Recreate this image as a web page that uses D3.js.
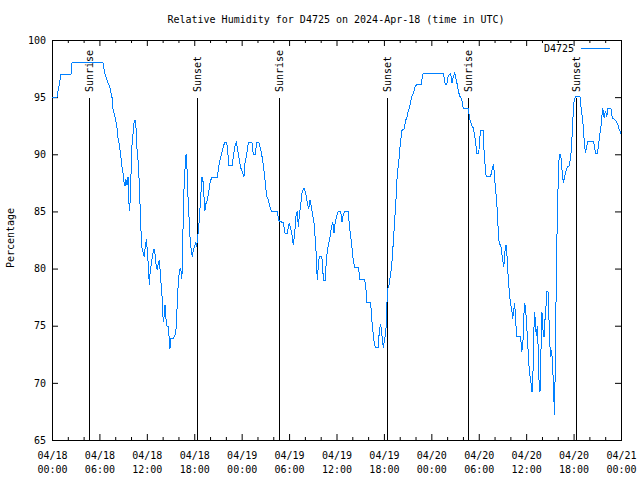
<!DOCTYPE html>
<html>
<head>
<meta charset="utf-8">
<script src="https://cdn.jsdelivr.net/npm/d3@7"></script>
<style>
  html, body { margin: 0; padding: 0; background: #fff; }
  svg { display: block; }
  text { font-family: "DejaVu Sans Mono", "Liberation Mono", monospace; font-size: 10px; fill: #000; }
</style>
</head>
<body>
<svg id="chart" width="640" height="480"></svg>
<script>
// ---- data ----
const titleText = "Relative Humidity for D4725 on 2024-Apr-18 (time in UTC)";
const yLabel = "Percentage";
const seriesName = "D4725";
const startTime = "2024-04-18T00:00:00Z";
const endTime = "2024-04-21T00:00:00Z";
const yTicks = [65, 70, 75, 80, 85, 90, 95, 100];

// hours since 2024-04-18 00:00 UTC
const hours = [0,0.63,0.89,1.14,2.40,2.53,6.45,6.71,6.96,7.34,
7.59,7.72,7.97,8.22,8.29,8.48,8.60,8.73,8.86,8.98,
9.11,9.24,9.36,9.49,9.62,9.78,9.87,10.12,10.41,10.59,
10.72,10.92,11.05,11.14,11.22,11.35,11.39,11.55,11.68,11.81,
11.98,12.06,12.19,12.31,12.40,12.62,12.82,12.91,13.03,13.16,
13.32,13.45,13.58,13.75,13.92,14.01,14.14,14.21,14.30,14.42,
14.51,14.76,14.84,14.93,15.06,15.35,15.56,15.69,15.78,15.91,
16.03,16.20,16.32,16.41,16.54,16.61,16.74,16.87,16.96,17.08,
17.21,17.34,17.46,17.59,17.75,17.88,18.01,18.18,18.31,18.44,
18.56,18.73,18.85,18.98,19.15,19.32,19.49,19.65,19.83,19.99,
20.21,20.92,21.09,21.26,21.47,21.68,21.85,22.11,22.23,22.36,
22.81,22.94,23.16,23.32,23.50,23.70,23.88,24.08,24.29,24.42,
24.64,24.84,25.31,25.47,25.72,25.90,26.19,26.41,26.66,26.83,
26.99,27.17,27.37,27.59,27.75,28.51,28.69,29.27,29.48,29.77,
30.03,30.20,30.37,30.53,30.71,30.87,31.04,31.17,31.29,31.47,
31.67,31.89,32.10,32.30,32.48,32.65,32.77,32.99,33.19,33.41,
33.57,33.70,33.83,34.13,34.25,34.33,34.58,34.67,34.83,35.01,
35.18,35.39,35.52,35.68,35.85,36.02,36.23,36.53,36.70,36.86,
37.07,37.49,37.62,37.80,37.96,38.13,38.31,38.76,38.97,39.57,
39.73,39.82,40.33,40.45,40.58,40.78,40.91,41.29,41.42,41.59,
41.76,41.92,42.10,42.26,42.35,42.43,42.64,42.77,42.98,43.11,
43.27,43.40,43.53,43.69,43.87,44.03,44.16,44.29,44.54,44.76,
44.88,45.05,45.21,45.39,45.52,45.72,45.97,46.15,46.69,46.82,
46.98,49.51,49.77,49.94,50.15,50.45,50.61,50.78,50.96,51.12,
51.29,51.42,51.63,51.85,52.05,52.65,52.77,52.90,53.11,53.31,
53.49,53.62,53.74,54.00,54.16,54.29,54.58,54.67,54.80,54.93,
55.51,55.68,55.85,55.93,56.06,56.19,56.35,56.48,56.61,56.78,
56.91,57.03,57.16,57.33,57.46,57.58,57.74,57.87,58.00,58.17,
58.30,58.43,58.55,58.68,58.81,59.23,59.36,59.44,59.57,59.64,
59.77,59.89,60.02,60.19,60.32,60.48,60.61,60.74,60.90,61.03,
61.16,61.28,61.41,61.54,61.62,61.75,61.88,62.00,62.13,62.26,
62.38,62.51,62.60,62.76,62.85,62.98,63.10,63.23,63.36,63.49,
63.56,63.68,63.81,63.94,64.07,64.19,64.37,64.53,64.70,64.88,
65.04,65.21,65.46,65.64,65.77,65.90,66.06,66.23,66.81,66.98,
67.16,67.29,67.42,67.50,67.67,67.80,68.51,68.64,68.77,69.02,
69.15,69.28,69.46,69.57,69.70,69.87,70.04,70.21,70.34,70.72,
70.89,71.27,71.56,71.74,71.90,72.00];

const humidity = [95,95,96,97,97,98,98,97,96.5,95.8,
95,94,93.3,92.4,91.6,91,90.4,89.7,88.9,88.4,
87.6,87.2,87.8,87.3,88,85,85.7,90.8,93,93,
90.8,89.2,87.4,85.6,83.7,82.4,81.8,81.4,81,82,
82.6,81.3,80.4,78.6,79.5,80.7,81.5,81.7,81.3,80.4,
79.9,80.5,80.7,79.2,77.6,75.9,75.3,76.2,76.8,75.6,
75,74.9,73.6,73,73.9,73.9,74.2,74.7,75.9,77.9,
79.3,80,79.8,79.1,80.3,85.8,87.4,89.2,90,88.8,
86.3,84.5,82.8,81.8,81,81.6,81.9,82.2,82,82.8,
83.6,85.3,86.6,88,87.5,85,85.7,86,86.7,87.5,
88,88,88.9,89.5,90.1,90.7,91,91,90.4,89,
89,89.8,90.7,91,90.4,89.5,88.8,88.5,88,89.2,
90,91,91,90,90,91,91,90.4,89.5,88.5,
87.5,86.3,86,85.4,85,85,84.2,84,83.1,83.1,
84,83.5,82.9,82.1,83.1,84.6,85,83.6,84.6,85.6,
86.8,87.05,86.6,85.8,85.2,86,85.6,84.7,83.8,81.5,
79,80.3,81.1,81.1,80.3,79,79,80.2,81.5,82.2,
82.8,83.7,84.1,83.1,84.1,84.6,85,85,84.1,84.7,
85,85,83.8,82.8,81.8,80.7,80.1,80.1,79.05,79.05,
78.2,77,77,75.6,74.7,73.5,73.1,73.1,74.6,75.1,
74.1,73.1,73.8,74.7,75.9,78.2,78.5,79.2,80.2,81.5,
83.2,84.6,86.1,88.3,89.3,90.6,91.4,92.1,92.2,93,
93.1,93.7,94,94.6,95.05,95.3,96,96.07,96.07,96.6,
97.1,97.1,96.07,96.07,96.9,97.1,96.2,96.8,97.1,96.6,
96.07,95.5,95.05,94.8,94,94,93.5,93,92.5,92.3,
91.6,91,90.1,90.1,91.6,92.1,92.1,90.3,89.1,88.1,
88.1,88.6,89.1,88.6,87.5,86.5,85,83.1,82.1,82.1,
81.4,80.8,80.1,81.6,82.1,81.1,79.05,77.9,77.1,76.4,
75.6,76.4,77,75.3,74.1,74.1,73.5,72.7,73.3,74.4,
77,76.7,75.6,73.5,71.8,70.6,70,69.2,71.5,76.2,
75.5,74.1,75,72.7,70.3,69.2,73,76.2,74.6,74,
75.5,76.7,78,78,76.4,73.5,72.3,72.9,71.2,69.4,
67.15,71,79.05,84.6,88.1,90,90,88.7,87.5,88.1,
88.5,88.9,89,89.8,91,93,94.6,95.05,95.05,93.9,
93,91.6,90.7,90.1,90.7,91.1,91.1,90.7,90.1,90.1,
90.7,91.6,92.4,93.3,94,93.2,93.8,93.3,94,94,
93.2,93,92.7,92.2,92,91.8];

const sunEvents = ["Sunrise", "Sunset", "Sunrise", "Sunset", "Sunrise", "Sunset"];
const sunTimes = ["2024-04-18T04:43:00Z", "2024-04-18T18:23:00Z",
                  "2024-04-19T04:46:00Z", "2024-04-19T18:26:00Z",
                  "2024-04-20T04:41:00Z", "2024-04-20T18:18:00Z"];

// ---- chart ----
const svg = d3.select("#chart");
const L = 52, R = 621, T = 40, B = 440;
const t0 = new Date(startTime), t1 = new Date(endTime);
const x = d3.scaleUtc().domain([t0, t1]).range([L, R]);
const y = d3.scaleLinear().domain([65, 100]).range([B, T]);

const data = hours.map((h, i) => ({ t: new Date(t0.getTime() + h * 3600e3), v: humidity[i] }));

// title
svg.append("text").attr("x", 336).attr("y", 23).attr("text-anchor", "middle").text(titleText);

// axis label
svg.append("text").attr("transform", "translate(14,238) rotate(-90)")
  .attr("text-anchor", "middle").text(yLabel);

function styleAxis(g) {
  g.select(".domain").remove();
  g.selectAll(".tick line").attr("stroke", "#000");
  g.attr("font-family", null).attr("font-size", null);
}

// y axes
svg.append("g").attr("transform", `translate(${L},0)`)
  .call(d3.axisLeft(y).tickValues(yTicks).tickSize(-6).tickPadding(6).tickFormat(d3.format("d")))
  .call(styleAxis);
svg.append("g").attr("transform", `translate(${R},0)`)
  .call(d3.axisRight(y).tickValues(yTicks).tickSize(-6).tickFormat(""))
  .call(styleAxis);

// x axes: minor ticks (2h) and major (6h)
const majorTicks = d3.utcHour.every(6).range(t0, new Date(t1.getTime() + 1));
const minorTicks = d3.utcHour.every(2).range(t0, new Date(t1.getTime() + 1)).filter(d => d.getUTCHours() % 6 !== 0);

svg.append("g").attr("transform", `translate(0,${B})`)
  .call(d3.axisBottom(x).tickValues(minorTicks).tickSize(-3).tickFormat(""))
  .call(styleAxis);
svg.append("g").attr("transform", `translate(0,${T})`)
  .call(d3.axisTop(x).tickValues(minorTicks).tickSize(-3).tickFormat(""))
  .call(styleAxis);
svg.append("g").attr("transform", `translate(0,${T})`)
  .call(d3.axisTop(x).tickValues(majorTicks).tickSize(-6).tickFormat(""))
  .call(styleAxis);

const fmtDate = d3.utcFormat("%m/%d"), fmtTime = d3.utcFormat("%H:%M");
const xb = svg.append("g").attr("transform", `translate(0,${B})`)
  .call(d3.axisBottom(x).tickValues(majorTicks).tickSize(-6).tickFormat(""))
  .call(styleAxis);
xb.selectAll(".tick text").each(function(d) {
  const t = d3.select(this).attr("y", null).attr("dy", null);
  t.append("tspan").attr("x", 0).attr("y", 19).text(fmtDate(d));
  t.append("tspan").attr("x", 0).attr("y", 33).text(fmtTime(d));
});

// frame
svg.append("rect").attr("x", L + 0.5).attr("y", T + 0.5)
  .attr("width", R - L).attr("height", B - T)
  .attr("fill", "none").attr("stroke", "#000").attr("stroke-width", 1);

// sunrise / sunset markers
const sun = svg.append("g");
sunTimes.forEach((s, i) => {
  const xp = Math.round(x(new Date(s))) + 0.5;
  sun.append("line").attr("x1", xp).attr("x2", xp).attr("y1", 98).attr("y2", B)
    .attr("stroke", "#000").attr("stroke-width", 1);
  sun.append("text").attr("transform", `translate(${xp},92) rotate(-90)`)
    .attr("dy", "0.35em").attr("text-anchor", "start").text(sunEvents[i]);
});

// data line
const line = d3.line().x(d => x(d.t)).y(d => y(d.v));
svg.append("path").datum(data).attr("d", line)
  .attr("fill", "none").attr("stroke", "#0080ff").attr("stroke-width", 1)
  .attr("stroke-linejoin", "miter").attr("shape-rendering", "crispEdges");

// legend
svg.append("text").attr("x", 574).attr("y", 52).attr("text-anchor", "end").text(seriesName);
svg.append("line").attr("x1", 581).attr("x2", 610).attr("y1", 48.5).attr("y2", 48.5)
  .attr("stroke", "#0080ff").attr("stroke-width", 1);
</script>
</body>
</html>
